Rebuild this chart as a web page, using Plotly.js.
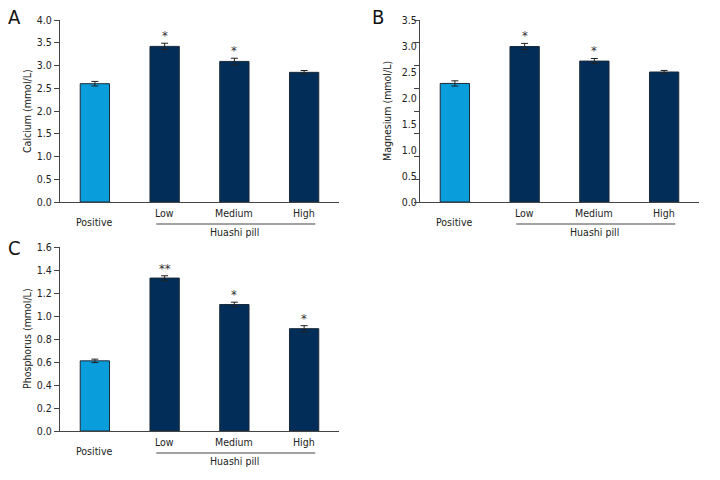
<!DOCTYPE html>
<html>
<head>
<meta charset="utf-8">
<script src="https://cdn.plot.ly/plotly-3.0.1.min.js"></script>
<style>
  body { margin: 0; background: #fff; }
  #chart { width: 720px; height: 480px; }
</style>
</head>
<body>
<div id="chart"></div>
<script>
// Serum levels by group
const categories = ['Positive', 'Low', 'Medium', 'High'];
const groupName = 'Huashi pill';

const calcium = [2.60, 3.42, 3.09, 2.85];
const calciumErr = [0.05, 0.07, 0.07, 0.04];
const calciumSig = ['', '*', '*', ''];

const magnesium = [2.28, 2.99, 2.71, 2.50];
const magnesiumErr = [0.05, 0.06, 0.05, 0.03];
const magnesiumSig = ['', '*', '*', ''];

const phosphorus = [0.61, 1.33, 1.10, 0.89];
const phosphorusErr = [0.015, 0.02, 0.02, 0.026];
const phosphorusSig = ['', '**', '*', '*'];

const FONT = '"Liberation Sans Narrow", "Arial Narrow", "DejaVu Sans Condensed", sans-serif';
const FS = 10.5;
const LIGHT = '#0a9ddc';
const NAVY = '#022d59';
const INK = '#222';

const W = 720, H = 480;
// panel boxes in px: [left, right, top, bottom]
const boxes = {
  A: [60, 339, 20, 202],
  B: [420, 699, 20, 202],
  C: [60, 339, 247, 431]
};

function xDom(b) { return [b[0] / W, b[1] / W]; }
function yDom(b) { return [1 - b[3] / H, 1 - b[2] / H]; }

const traces = [];
const annotations = [];
const shapes = [];

function addPanel(id, xa, ya, values, errs, sig, title) {
  const b = boxes[id];
  const hPx = b[3] - b[2];
  const xr = xa.replace('axis', '');
  const yr = ya.replace('axis', '');

  traces.push({
    type: 'bar',
    x: categories,
    y: values,
    xaxis: xr,
    yaxis: yr,
    width: 0.42,
    marker: {
      color: categories.map((_, i) => i === 0 ? LIGHT : NAVY),
      line: { color: '#1b2a38', width: 1 }
    },
    error_y: {
      type: 'data',
      array: errs,
      visible: true,
      color: INK,
      thickness: 1,
      width: 3.5
    },
    hoverinfo: 'x+y',
    showlegend: false
  });

  // significance stars
  categories.forEach((c, i) => {
    if (!sig[i]) return;
    annotations.push({
      xref: xr, yref: yr, x: c, y: values[i] + errs[i],
      text: sig[i], showarrow: false, yanchor: 'bottom', yshift: -2,
      font: { family: FONT, size: 13, color: '#333' }
    });
  });

  // category labels (Positive sits lower than the Huashi doses)
  categories.forEach((c, i) => {
    annotations.push({
      xref: xr, yref: yr + ' domain', x: c, y: 0,
      text: c, showarrow: false, yanchor: 'middle',
      yshift: i === 0 ? -20 : -11,
      font: { family: FONT, size: FS, color: INK }
    });
  });

  // group bracket line + label
  shapes.push({
    type: 'line', xref: xr, yref: yr + ' domain',
    x0: 0.88, x1: 3.16, y0: -22 / hPx, y1: -22 / hPx,
    line: { color: '#444', width: 1 }
  });
  annotations.push({
    xref: xr, yref: yr + ' domain', x: 2, y: 0,
    text: groupName, showarrow: false, yanchor: 'middle', yshift: -30,
    font: { family: FONT, size: FS, color: INK }
  });

  // y-axis title
  annotations.push({
    xref: xr + ' domain', yref: yr + ' domain', x: 0, y: 0.5,
    xanchor: 'center', yanchor: 'middle',
    xshift: -33, text: title, textangle: -90, showarrow: false,
    font: { family: FONT, size: FS, color: INK }
  });

  // panel letter
  annotations.push({
    xref: 'paper', yref: 'paper',
    x: (id === 'B' ? 378 : 14) / W,
    y: 1 - (id === 'C' ? 248 : 17) / H,
    xanchor: 'center', yanchor: 'middle',
    text: id, showarrow: false,
    font: { family: FONT, size: 20, color: '#111' }
  });
}

addPanel('A', 'xaxis', 'yaxis', calcium, calciumErr, calciumSig, 'Calcium (mmol/L)');
addPanel('B', 'xaxis2', 'yaxis2', magnesium, magnesiumErr, magnesiumSig, 'Magnesium (mmol/L)');
addPanel('C', 'xaxis3', 'yaxis3', phosphorus, phosphorusErr, phosphorusSig, 'Phosphorus (mmol/L)');

function xAxis(id, anchor) {
  return {
    domain: xDom(boxes[id]), anchor: anchor,
    type: 'category', range: [-0.5, 3.5],
    showline: true, linecolor: '#444', linewidth: 1,
    ticks: '', showticklabels: false, showgrid: false, zeroline: false,
    fixedrange: true
  };
}

function yAxis(id, anchor, max, dtick, ticks) {
  return {
    domain: yDom(boxes[id]), anchor: anchor,
    range: [0, max], dtick: dtick, tick0: 0, tickformat: '.1f',
    showline: true, linecolor: '#444', linewidth: 1,
    ticks: ticks, ticklen: 5, tickcolor: '#444',
    showgrid: false, zeroline: false,
    tickfont: { family: FONT, size: FS, color: INK },
    fixedrange: true
  };
}

// B: tick marks in the original do not line up with its labels (9 marks, 8 labels)
const bMarks = [];
for (let k = 0; k <= 8; k++) bMarks.push(3.5 * k / 8);

traces.push({
  type: 'scatter', mode: 'markers', x: ['Positive'], y: [0],
  xaxis: 'x2', yaxis: 'y4', marker: { opacity: 0 },
  hoverinfo: 'skip', showlegend: false
});

const layout = {
  width: W, height: H,
  margin: { l: 0, r: 0, t: 0, b: 0 },
  paper_bgcolor: '#fff', plot_bgcolor: '#fff',
  font: { family: FONT, color: INK },
  xaxis: xAxis('A', 'y'),
  yaxis: yAxis('A', 'x', 4, 0.5, 'outside'),
  xaxis2: xAxis('B', 'y2'),
  yaxis2: yAxis('B', 'x2', 3.5, 0.5, ''),
  xaxis3: xAxis('C', 'y3'),
  yaxis3: yAxis('C', 'x3', 1.6, 0.2, 'outside'),
  yaxis4: {
    overlaying: 'y2', anchor: 'x2', range: [0, 3.5],
    tickmode: 'array', tickvals: bMarks, ticks: 'outside', ticklen: 5,
    tickcolor: '#444', showticklabels: false, showline: false,
    showgrid: false, zeroline: false, fixedrange: true
  },
  annotations: annotations,
  shapes: shapes
};

Plotly.newPlot('chart', traces, layout, { displayModeBar: false, staticPlot: true });
</script>
</body>
</html>
